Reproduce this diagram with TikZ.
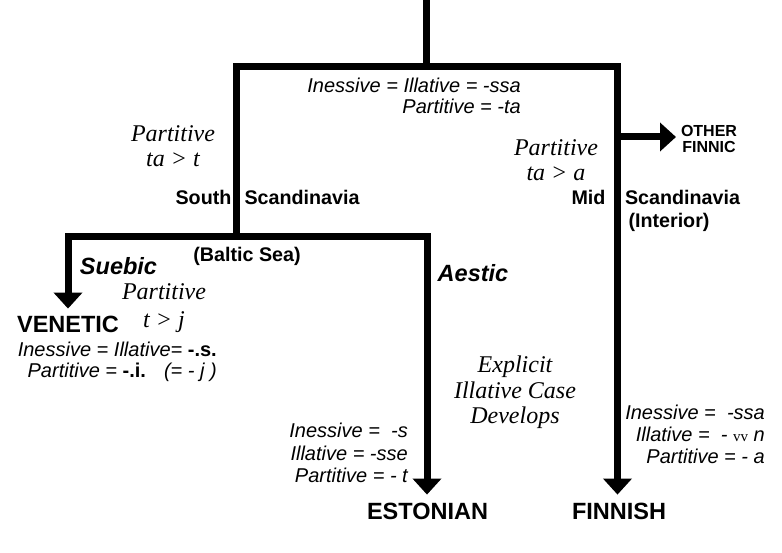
\documentclass[tikz,border=0pt]{standalone}
\usepackage{fontspec}
\setmainfont{Liberation Sans}
\newfontfamily\tnr{Liberation Serif}
\usetikzlibrary{arrows.meta}

\begin{document}
\begin{tikzpicture}[x=1pt, y=-1pt, line join=miter,
    branch/.style={line width=7pt},
    tip/.style={-{Triangle[length=16pt,width=28pt]}},
    twotips/.style={{Triangle[length=16pt,width=28pt]}-{Triangle[length=16pt,width=28pt]}},
    lang/.style={font=\bfseries\fontsize{23.5}{25}\selectfont, inner sep=0pt, outer sep=8pt, anchor=base},
    place/.style={font=\bfseries\fontsize{19.7}{22}\selectfont, inner sep=0pt, anchor=base},
    group/.style={font=\bfseries\itshape\fontsize{23.5}{25}\selectfont, inner sep=0pt, anchor=base},
    cases/.style={font=\itshape\fontsize{20}{21}\selectfont, inner sep=0pt, align=right, anchor=east},
    change/.style={font=\tnr\itshape\fontsize{24}{25}\selectfont, inner sep=0pt, align=center}]
\useasboundingbox (0,0) rectangle (782,553);
    % branch points
\coordinate (top)  at (426,0);
\coordinate (root) at (426,66.5);
\coordinate (NW)   at (236.5,66.5);
\coordinate (NE)   at (617.5,66.5);
\coordinate (S)    at (236.5,236.5);  % South Scandinavia
\coordinate (SW)   at (68,236.5);
\coordinate (SE)   at (427,236.5);
\coordinate (M)    at (617.5,137);    % Mid Scandinavia
    % languages
\node[lang] (venetic)  at (68,333)    {VENETIC};
\node[lang] (estonian) at (427.5,519) {ESTONIAN};
\node[lang] (finnish)  at (619,519)   {FINNISH};
\node[font=\bfseries\fontsize{16}{16.5}\selectfont, align=center, inner sep=0pt, outer sep=5pt] (other) at (709,139) {OTHER\\FINNIC};
    % tree
\draw[branch] (top) -- (root);
\draw[branch, tip] (S) -- (NW) -- (NE) -- (NE |- finnish.north);
\draw[branch, twotips] (SW |- venetic.north) -- (SW) -- (SE) -- (SE |- estonian.north);
\draw[branch, tip] (M) -- (other.west |- M);
    % places and groups
\node[place] (south)    at (203.5,205) {South};
\node[place] (scand1)   at (302,205)   {Scandinavia};
\node[place] (mid)      at (588.5,205) {Mid};
\node[place] (scand2)   at (682.5,205) {Scandinavia};
\node[place] (interior) at (669,228)   {(Interior)};
\node[place] (baltic)   at (247,262)   {(Baltic Sea)};
\node[group] (suebic)   at (118.5,275) {Suebic};
\node[group] (aestic)   at (473,282)   {Aestic};
    % sound changes
\node[change] (tat)  at (173,146.5) {Partitive\\ta > t};
\node[change] (taa)  at (556,160)   {Partitive\\ta > a};
\node[change, font=\tnr\itshape\fontsize{24}{28}\selectfont] (tj) at (164,308.5) {Partitive\\t > j};
\node[change, font=\tnr\itshape\fontsize{24}{25.5}\selectfont] (illat) at (515,392.5) {Explicit\\Illative Case\\Develops};
    % case endings
\node[cases] (protocases) at (521,95.5) {Inessive = Illative = -ssa\\Partitive = -ta};
\node[cases] (venecases)  at (217,362)  {Inessive = Illative= \textbf{\upshape -.s.}\\Partitive = \textbf{\upshape -.i.}\hspace{18pt}(= - j )};
\node[cases, font=\itshape\fontsize{20}{22.5}\selectfont] (estcases) at (408,453) {Inessive = \ -s\\Illative = -sse\\Partitive = - t};
\node[cases, font=\itshape\fontsize{20}{22}\selectfont] (fincases) at (765,434) {Inessive = \ -ssa\\Illative = \ - {\upshape\tnr\fontsize{15}{15}\selectfont vv} n\\Partitive = - a};
\end{tikzpicture}
\end{document}
